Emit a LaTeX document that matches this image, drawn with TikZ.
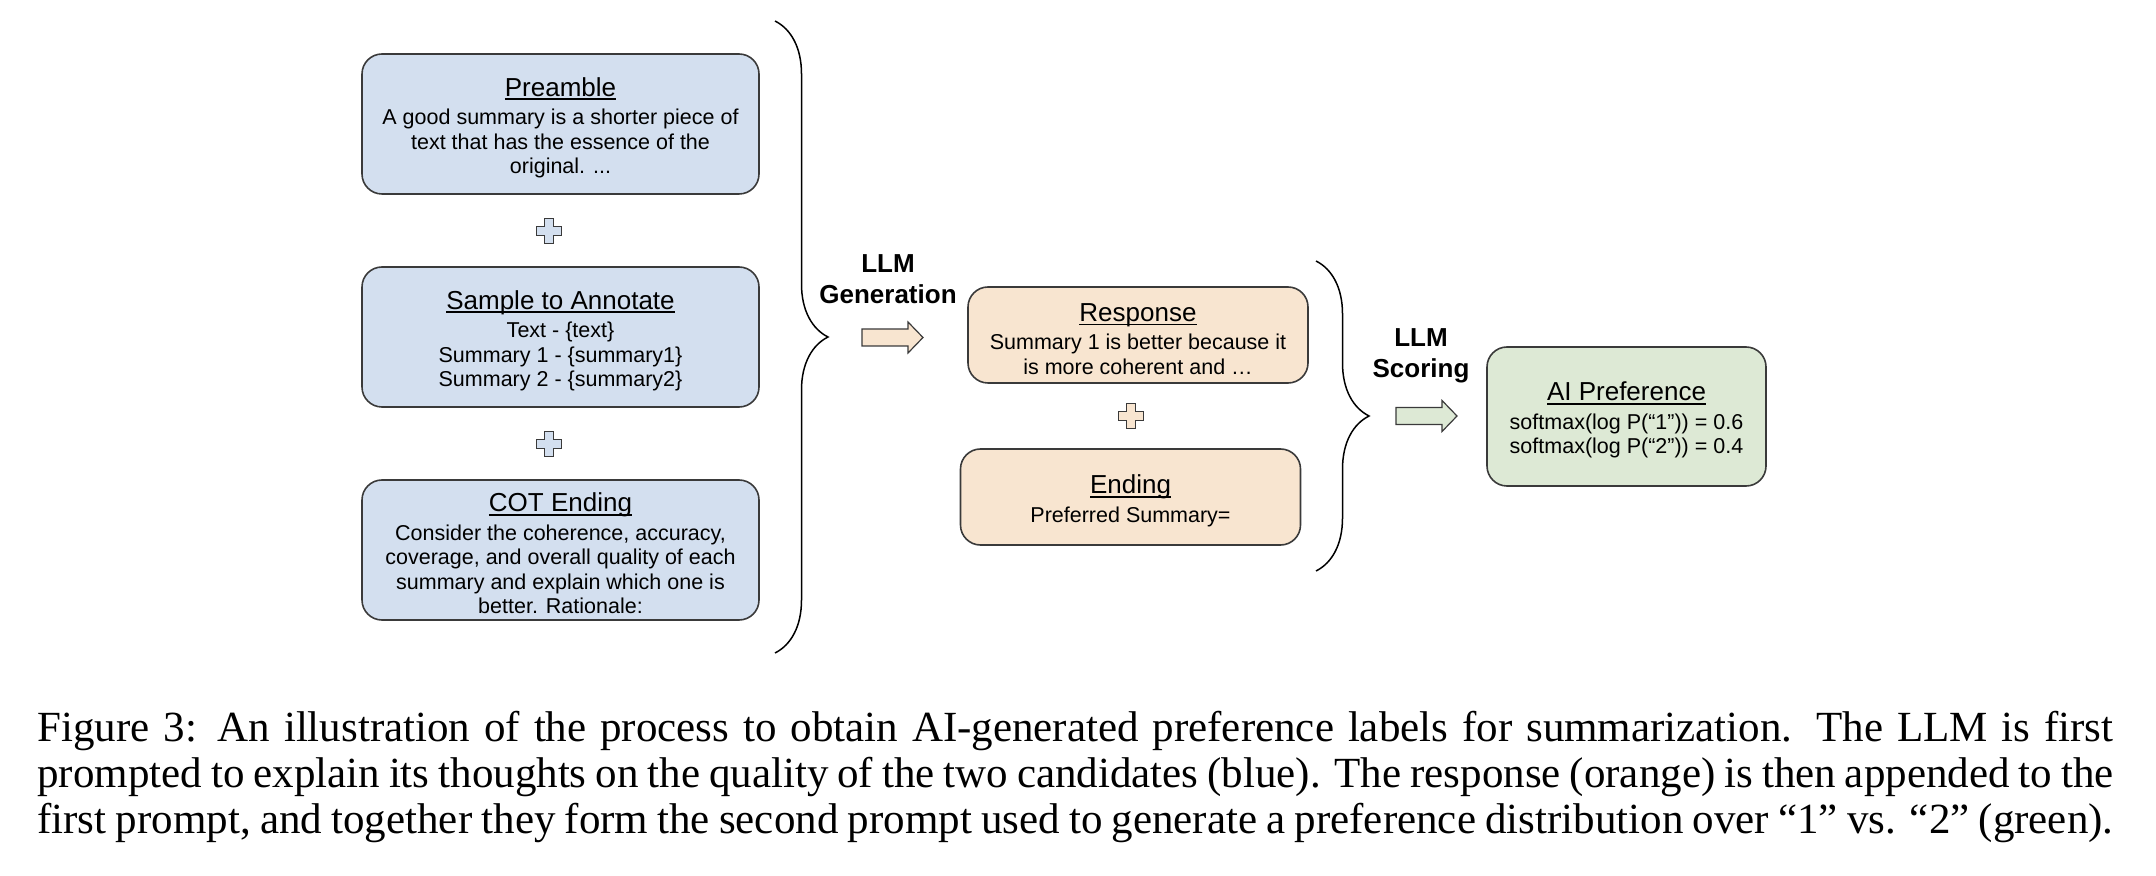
\documentclass[tikz,border=0pt]{standalone}
\usepackage{fontspec}
\setmainfont{Liberation Sans}
\newfontfamily\captionserif{Liberation Serif}
\usetikzlibrary{positioning,decorations.pathreplacing}

\definecolor{promptblue}{HTML}{D3DFEF}
\definecolor{replyorange}{HTML}{F8E5D0}
\definecolor{scoregreen}{HTML}{DDE9D5}
\definecolor{edgegray}{HTML}{3A3A3A}

% underlined box heading, then a new line
\newcommand{\boxtitle}[1]{\setbox0=\hbox{\fontsize{13}{15}\selectfont #1}\rule{0pt}{13pt}\rlap{\rule[-2pt]{\wd0}{0.9pt}}\box0\\[2pt]}
\newcommand{\capline}[1]{\hbox to 1038pt{#1}}

\tikzset{
  plussign/.pic={\path[pic actions] (-4.5,-12.5) -- (4.5,-12.5) -- (4.5,-4.5) -- (12.5,-4.5) -- (12.5,4.5) -- (4.5,4.5) -- (4.5,12.5) -- (-4.5,12.5) -- (-4.5,4.5) -- (-12.5,4.5) -- (-12.5,-4.5) -- (-4.5,-4.5) -- cycle;},
  blockarrow/.pic={\path[pic actions] (0,-8.5) -- (46,-8.5) -- (46,-15.5) -- (61,0) -- (46,15.5) -- (46,8.5) -- (0,8.5) -- cycle;}
}

\begin{document}
\begin{tikzpicture}[x=0.5pt,y=-0.5pt]
        \tikzstyle{box} = [rectangle, rounded corners=10pt, draw=edgegray, line width=0.8pt, text centered, align=center, inner sep=0pt, font=\fontsize{10.75}{12.25}\selectfont]
        \tikzstyle{prompt} = [box, fill=promptblue, minimum width=198.5pt, minimum height=70pt, node distance=106.5pt]
        \tikzstyle{reply} = [box, fill=replyorange, minimum width=170pt, minimum height=48pt, node distance=81pt]
        \tikzstyle{score} = [box, fill=scoregreen, minimum width=139.5pt, minimum height=69.5pt]
        \tikzstyle{steplabel} = [align=center, inner sep=0pt, font=\bfseries\fontsize{13}{15.5}\selectfont]
        \tikzstyle{bigbrace} = [decorate, decoration={brace, amplitude=26.5pt}, line width=0.75pt]
        \tikzstyle{outline} = [draw=edgegray, line width=0.6pt]
        \tikzstyle{capline} = [anchor=base west, inner sep=0pt, font=\captionserif\fontsize{21.5}{23}\selectfont]

                \useasboundingbox (0,0) rectangle (2156,876);

                % first prompt
                \node (preamble) [prompt] at (560.5,124) {\boxtitle{Preamble}A good summary is a shorter piece of\\text that has the essence of the\\original. ...};
                \node (sample) [prompt, below of=preamble] {\boxtitle{Sample to Annotate}Text - \{text\}\\Summary 1 - \{summary1\}\\Summary 2 - \{summary2\}};
                \node (cot) [prompt, below of=sample] {\boxtitle{COT Ending}Consider the coherence, accuracy,\\coverage, and overall quality of each\\summary and explain which one is\\better. Rationale:};
                \pic [outline, fill=promptblue] at (549,231) {plussign};
                \pic [outline, fill=promptblue] at (549,444) {plussign};
                \draw[bigbrace] (775,21) -- (775,653);

                \node (generation) [steplabel] at (888,279) {LLM\\Generation};
                \pic [outline, fill=replyorange] at (862,337.5) {blockarrow};

                % second prompt
                \node (response) [reply] at (1138,335) {\boxtitle{Response}Summary 1 is better because it\\is more coherent and …};
                \node (ending) [reply, below of=response, xshift=-3.75pt] {\boxtitle{Ending}Preferred Summary=};
                \pic [outline, fill=replyorange] at (1131,416) {plussign};
                \draw[bigbrace] (1316,261) -- (1316,571);

                \node (scoring) [steplabel] at (1421,355.5) {LLM\\Scoring};
                \pic [outline, fill=scoregreen] at (1396,416) {blockarrow};

                \node (preference) [score] at (1626.5,416.5) {\boxtitle{AI Preference}softmax(log P(“1”)) = 0.6\\softmax(log P(“2”)) = 0.4};

                % caption, one node per line
                \node (cap1) [capline] at (37,741) {\capline{Figure 3: An illustration of the process to obtain AI-generated preference labels for summarization. The LLM is first}};
                \node (cap2) [capline] at (37,787) {\capline{prompted to explain its thoughts on the quality of the two candidates (blue). The response (orange) is then appended to the}};
                \node (cap3) [capline] at (37,833) {\capline{first prompt, and together they form the second prompt used to generate a preference distribution over “1” vs. “2” (green).}};

\end{tikzpicture}
\end{document}
